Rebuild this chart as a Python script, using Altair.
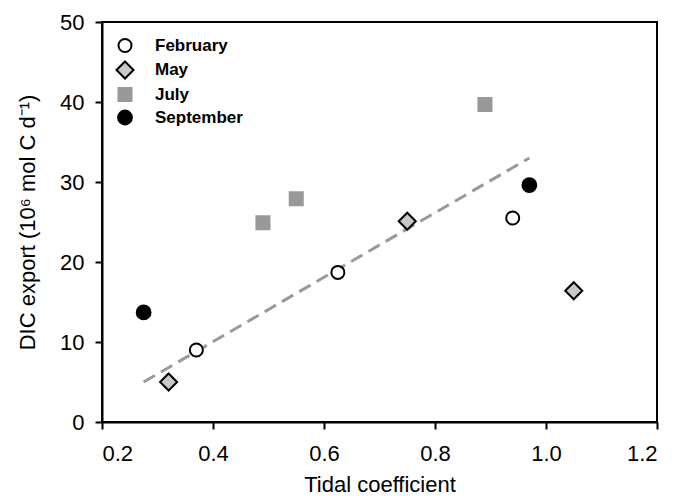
import altair as alt
import pandas as pd

months = ["February", "February", "February", "May", "May", "May",
          "July", "July", "July", "September", "September"]
tidal = [0.37, 0.625, 0.94, 0.32, 0.75, 1.05, 0.49, 0.55, 0.89, 0.275, 0.97]
dic = [9.0, 18.7, 25.5, 5.0, 25.1, 16.4, 24.9, 27.9, 39.7, 13.7, 29.6]

fit_x = [0.275, 0.97]
fit_y = [5.0, 33.0]

month_order = ["February", "May", "July", "September"]
shapes = ["circle", "diamond", "square", "circle"]
fills = ["white", "#c8c8c8", "#999999", "black"]
strokes = ["black", "black", "#999999", "black"]
sizes = [170, 290, 170, 190]

pts = pd.DataFrame({"month": months, "tidal": tidal, "dic": dic})
fit = pd.DataFrame({"tidal": fit_x, "dic": fit_y})

xs = alt.Scale(domain=[0.2, 1.2], nice=False, zero=False)
ys = alt.Scale(domain=[0, 50], nice=False)

xax = alt.Axis(values=[0.2, 0.4, 0.6, 0.8, 1.0, 1.2], format=".1f", grid=False,
               title="Tidal coefficient")
yax = alt.Axis(values=[0, 10, 20, 30, 40, 50], grid=False,
               title="DIC export (10⁶ mol C d⁻¹)")

line = alt.Chart(fit).mark_line(color="#999999", strokeWidth=3, strokeDash=[13, 7]).encode(
    x=alt.X("tidal:Q", scale=xs, axis=xax),
    y=alt.Y("dic:Q", scale=ys, axis=yax),
)

legend = alt.Legend(title=None, orient="none", legendX=13, legendY=15,
                    labelFontSize=17, labelFontWeight="bold", labelFont="Liberation Sans",
                    labelColor="black", rowPadding=0,
                    labelOffset=20, symbolStrokeWidth=2)

points = alt.Chart(pts).mark_point(filled=True, strokeWidth=2, opacity=1).encode(
    x=alt.X("tidal:Q", scale=xs, axis=xax),
    y=alt.Y("dic:Q", scale=ys, axis=yax),
    shape=alt.Shape("month:N", scale=alt.Scale(domain=month_order, range=shapes), legend=legend),
    fill=alt.Fill("month:N", scale=alt.Scale(domain=month_order, range=fills), legend=legend),
    stroke=alt.Stroke("month:N", scale=alt.Scale(domain=month_order, range=strokes), legend=legend),
    size=alt.Size("month:N", scale=alt.Scale(type="ordinal", domain=month_order, range=sizes),
                  legend=legend),
)

chart = alt.layer(line, points).properties(
    width=555, height=400,
    autosize=alt.AutoSizeParams(type="none"),
    padding={"left": 102, "top": 22, "right": 18, "bottom": 74},
).configure_view(stroke="black", strokeWidth=2).configure_axis(
    domainColor="black", domainWidth=2, tickColor="black", tickWidth=2, tickSize=7,
    labelFont="Liberation Sans", labelFontSize=22, labelColor="black",
    titleFont="Liberation Sans", titleFontSize=22, titleFontWeight="normal", titleColor="black",
).configure_axisX(titlePadding=10, labelPadding=14).configure_axisY(titlePadding=20, labelPadding=11)

chart.save("out.html", embed_options={"renderer": "svg", "actions": False})
